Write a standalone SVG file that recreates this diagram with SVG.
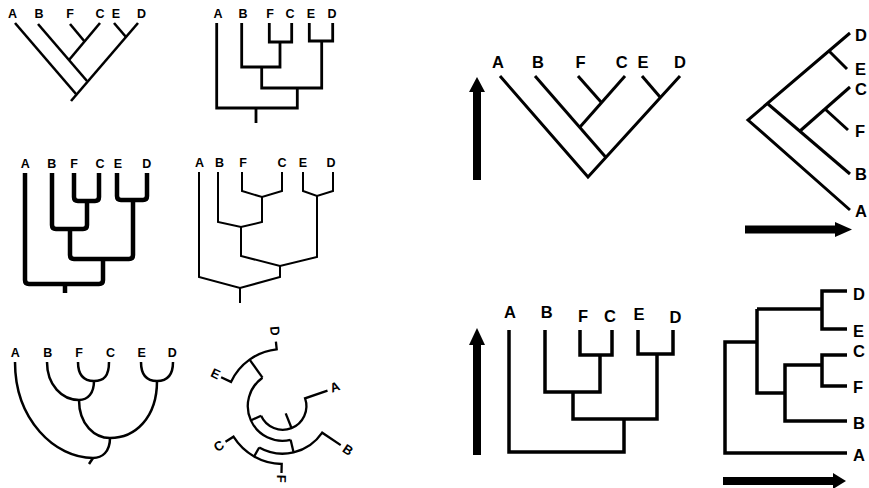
<svg xmlns="http://www.w3.org/2000/svg" width="869" height="488" viewBox="0 0 869 488">
<style>
.e{fill:none;stroke:#000;stroke-linecap:butt;stroke-linejoin:miter}
.s{font-family:"Liberation Sans",Arial,sans-serif;font-weight:bold;font-size:12.5px;text-anchor:middle;fill:#000}
.b{font-family:"Liberation Sans",Arial,sans-serif;font-weight:bold;font-size:16.5px;text-anchor:middle;fill:#000}
.r{font-family:"Liberation Sans",Arial,sans-serif;font-weight:bold;font-size:16.5px;text-anchor:start;fill:#000}
.c{font-family:"Liberation Sans",Arial,sans-serif;font-weight:bold;font-size:13px;text-anchor:middle;dominant-baseline:central;fill:#000}
</style>
<rect width="869" height="488" fill="#fff"/>

<g id="panel1">
<g id="p1-edges" class="e" stroke-width="2.6">
<path d="M15,23 L76,94"/><path d="M138,23 L71,101"/><path d="M38,24 L87,81"/><path d="M100,23 L69,60"/><path d="M70,24 L85,42"/><path d="M114,23 L126,37"/>
</g>
<g id="p1-labels" class="s"><text x="12.5" y="18">A</text><text x="39" y="18">B</text><text x="70" y="18">F</text><text x="100" y="18">C</text><text x="116" y="18">E</text><text x="141.5" y="18">D</text></g>
</g>

<g id="panel2">
<g id="p2-edges" class="e" stroke-width="2.8">
<path d="M216.7,23 V108 H297.3 V88"/><path d="M256,108 V123"/>
<path d="M241.7,23 V67 H280 V42"/><path d="M269.3,23 V42 H291.7 V23"/>
<path d="M261.7,67 V88 H321.7 V41"/><path d="M309.3,23 V41 H332.7 V23"/>
</g>
<g id="p2-labels" class="s"><text x="218" y="18">A</text><text x="243" y="18">B</text><text x="270" y="18">F</text><text x="290" y="18">C</text><text x="311" y="18">E</text><text x="332" y="18">D</text></g>
</g>

<g id="panel3">
<g id="p3-edges" class="e" stroke-width="4.5">
<path d="M25,173 V280 Q25,284 29,284 H99 Q103,284 103,280 V259"/><path d="M65,284 V293"/>
<path d="M70,229 V255 Q70,259 74,259 H129 Q133,259 133,255 V200"/>
<path d="M52,173 V225 Q52,229 56,229 H83 Q87,229 87,225 V201"/>
<path d="M74,173 V197 Q74,201 78,201 H95 Q99,201 99,197 V173"/>
<path d="M117,173 V196 Q117,200 121,200 H143 Q147,200 147,196 V173"/>
</g>
<g id="p3-labels" class="s"><text x="25.3" y="168">A</text><text x="51.7" y="168">B</text><text x="74" y="168">F</text><text x="100" y="168">C</text><text x="118" y="168">E</text><text x="146.7" y="168">D</text></g>
</g>

<g id="panel4">
<g id="p4-edges" class="e" stroke-width="2">
<path d="M199,172 V277 L240,288 L280,277 V266"/><path d="M240,288 V303"/>
<path d="M241,227 V256 L280,266 L317,257 V196"/>
<path d="M218,172 V222 L241,227 L262,222 V197"/>
<path d="M242,172 V191 L262,197 L282,191 V172"/>
<path d="M303,172 V191 L317,196 L333,191 V172"/>
</g>
<g id="p4-labels" class="s"><text x="199.5" y="167">A</text><text x="219.5" y="167">B</text><text x="243" y="167">F</text><text x="282" y="167">C</text><text x="303" y="167">E</text><text x="331" y="167">D</text></g>
</g>

<g id="panel5">
<g id="p5-edges" class="e" stroke-width="2.5">
<path d="M78,362 C78,376 84,381 94,381 C104,381 109,376 109,362"/>
<path d="M141,362 C141,376 147,381 157,381 C167,381 173,376 173,362"/>
<path d="M47,362 C47,385 62,400 79,400"/>
<path d="M94,381 C94,393 88,400 79,400"/>
<path d="M79,400 C79,425 95,438 110,438"/>
<path d="M157,381 C157,418 135,438 110,438"/>
<path d="M110,438 C110,452 102,458 93,458"/>
<path d="M15,362 C15,420 55,458 93,458"/>
<path d="M93,458 L89,464"/>
</g>
<g id="p5-labels" class="s"><text x="15.3" y="357">A</text><text x="47.7" y="357">B</text><text x="79" y="357">F</text><text x="110.5" y="357">C</text><text x="141.7" y="357">E</text><text x="172.3" y="357">D</text></g>
</g>

<g id="panel6">
<g id="p6-edges" class="e" stroke-width="2.3">
<path d="M275.9,341.7 L276.7,349.3 A57,57 0 0 0 231.0,381.9 L221.1,377.3"/>
<path d="M249.6,359.6 L262.5,377.7"/>
<path d="M225.5,441.8 L233.5,436.7 A58,58 0 0 0 281.7,464.0 L281.5,473.0"/>
<path d="M254.1,456.5 L259.2,447.5"/>
<path d="M340.7,445.1 L322.2,432.7 A47.7,47.7 0 0 1 259.2,447.5"/>
<path d="M293.6,452.4 L290.6,439.8"/>
<path d="M290.6,439.8 A34.7,34.7 0 0 1 262.5,377.7"/>
<path d="M251.1,420.3 L261.1,415.8"/>
<path d="M327.5,390.6 L305.1,398.3 A23.7,23.7 0 0 1 261.1,415.8"/>
<path d="M291.5,428.0 L285.7,413.4"/>
</g>
<g id="p6-labels" class="c">
<text transform="translate(334.8 387) rotate(-20)">A</text>
<text transform="translate(347.8 449.8) rotate(34)">B</text>
<text transform="translate(281.4 478.8) rotate(91)">F</text>
<text transform="translate(218.8 446) rotate(-32)">C</text>
<text transform="translate(215.5 373.8) rotate(25)">E</text>
<text transform="translate(274.9 331) rotate(84)">D</text>
</g>
</g>

<g id="panel7">
<g id="p7-edges" class="e" stroke-width="3">
<path d="M500,76 L588,177 L680,76"/><path d="M535,76 L606,157.5"/><path d="M625,76 L580,127"/><path d="M578,76 L601,102"/><path d="M642,76 L660,97"/>
</g>
<g id="p7-arrow"><rect x="473" y="91" width="8" height="89"/><polygon points="469,92 477,77 485,92"/></g>
<g id="p7-labels" class="b"><text x="498" y="68">A</text><text x="538" y="68">B</text><text x="580.5" y="68">F</text><text x="621.7" y="68">C</text><text x="643" y="68">E</text><text x="680" y="68">D</text></g>
</g>

<g id="panel8">
<g id="p8-edges" class="e" stroke-width="3">
<path d="M850,33 L748,120 L850,210"/><path d="M768,104 L850,174"/><path d="M829,51 L847,69"/><path d="M800,131 L850,87"/><path d="M825,109 L848,130"/>
</g>
<g id="p8-arrow"><rect x="745" y="225.5" width="91" height="8"/><polygon points="835,222 852,229.5 835,237"/></g>
<g id="p8-labels" class="r"><text x="855" y="41">D</text><text x="855" y="75">E</text><text x="855" y="95">C</text><text x="855" y="137">F</text><text x="855" y="180">B</text><text x="855" y="217">A</text></g>
</g>

<g id="panel9">
<g id="p9-edges" class="e" stroke-width="3.5">
<path d="M509,330 V452 H624 V419"/><path d="M573,392 V419 H657 V354"/><path d="M545,330 V392 H600 V355"/><path d="M580,330 V355 H612 V330"/><path d="M638,330 V354 H673 V330"/>
</g>
<g id="p9-arrow"><rect x="473" y="344" width="8" height="111"/><polygon points="469,345 477,328 485,345"/></g>
<g id="p9-labels" class="b"><text x="510" y="318">A</text><text x="546.7" y="318">B</text><text x="583" y="322">F</text><text x="610" y="322">C</text><text x="639" y="320">E</text><text x="675.5" y="323">D</text></g>
</g>

<g id="panel10">
<g id="p10-edges" class="e" stroke-width="3.5">
<path d="M847,453 H725 V342 H757"/><path d="M757,309 V393 H785"/><path d="M847,291 H822 V329 H847"/><path d="M757,309 H822"/><path d="M847,421 H785 V365 H822"/><path d="M847,355 H822 V386 H847"/>
</g>
<g id="p10-arrow"><rect x="723" y="477" width="111" height="8"/><polygon points="833,473 846,481 833,489"/></g>
<g id="p10-labels" class="r"><text x="853" y="300">D</text><text x="853" y="337">E</text><text x="853" y="357">C</text><text x="853" y="393">F</text><text x="853" y="429">B</text><text x="853" y="461">A</text></g>
</g>
</svg>
